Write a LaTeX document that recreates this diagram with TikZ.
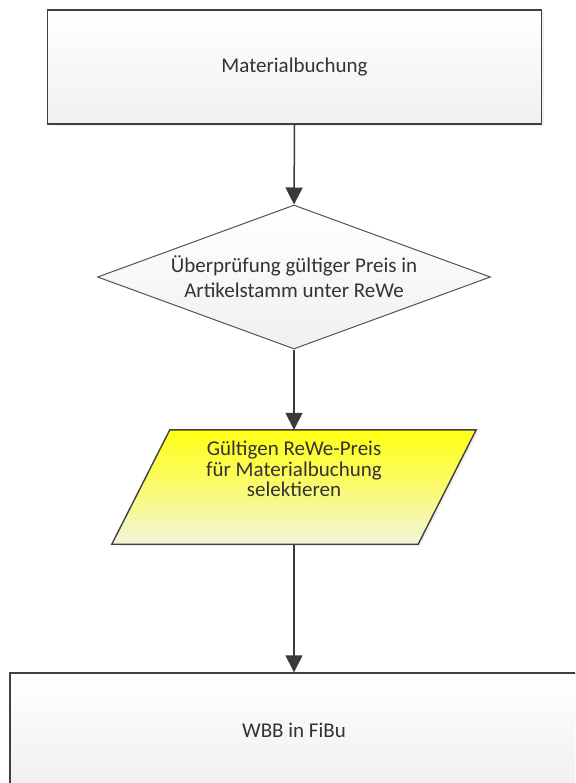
\documentclass[tikz,border=0pt]{standalone}
\usepackage{fontspec}
\setmainfont{Carlito}
\usetikzlibrary{shapes.geometric,arrows.meta,shadows}
\definecolor{edge}{RGB}{64,64,64}
\definecolor{flow}{RGB}{58,58,58}
\definecolor{paleface}{RGB}{240,240,240}
\definecolor{hiyellow}{RGB}{255,255,20}
\definecolor{paleyellow}{RGB}{244,244,222}
\begin{document}
\begin{tikzpicture}[x=1pt,y=-1pt,
  txt/.style={font=\fontsize{21}{25}\selectfont, text=black!80, align=center},
  procbox/.style={txt, draw=edge, line width=1.4pt, top color=white, bottom color=paleface,
    inner sep=0pt, drop shadow={shadow xshift=2pt, shadow yshift=-2pt, opacity=0.12}},
  decision/.style={txt, shape=diamond, aspect=2.73, draw=edge!90, line width=1pt,
    top color=white, bottom color=paleface, inner sep=0pt,
    minimum width=393pt, minimum height=144pt},
  iobody/.style={draw=edge, line width=1.4pt,
    top color=hiyellow, bottom color=paleyellow, middle color=hiyellow!55!paleyellow,
    drop shadow={shadow xshift=2pt, shadow yshift=-2pt, opacity=0.12}},
  flowarrow/.style={draw=flow, line width=1.5pt, -{Triangle[width=17pt,length=17pt]}}
]
\useasboundingbox (0,0) rectangle (575,783);
\clip (0,0) rectangle (575,783);

% process steps
\node[procbox, minimum width=494pt, minimum height=114pt] (mat) at (294.5,67) {Materialbuchung};
\node[decision] (chk) at (294,277) {Überprüfung gültiger Preis in\\Artikelstamm unter ReWe};

% input/output step: a slanted body laid over a plain frame node
\node[minimum width=306pt, minimum height=114pt, inner sep=0pt] (sel) at (294,487) {};
\path[iobody] ([xshift=29pt]sel.north west) -- ([xshift=29pt]sel.north east)
  -- ([xshift=-29pt]sel.south east) -- ([xshift=-29pt]sel.south west) -- cycle;
\node[txt, font=\fontsize{21}{20.5}\selectfont] (seltxt) at (294,469)
  {Gültigen ReWe-Preis\\für Materialbuchung\\selektieren};

\node[procbox, minimum width=568pt, minimum height=114pt] (wbb) at (294,730) {WBB in FiBu};

% connectors
\draw[flowarrow] (mat.south) -- (chk.north);
\draw[flowarrow] (chk.south) -- (sel.north);
\draw[flowarrow] (sel.south) -- (wbb.north);
\end{tikzpicture}
\end{document}
